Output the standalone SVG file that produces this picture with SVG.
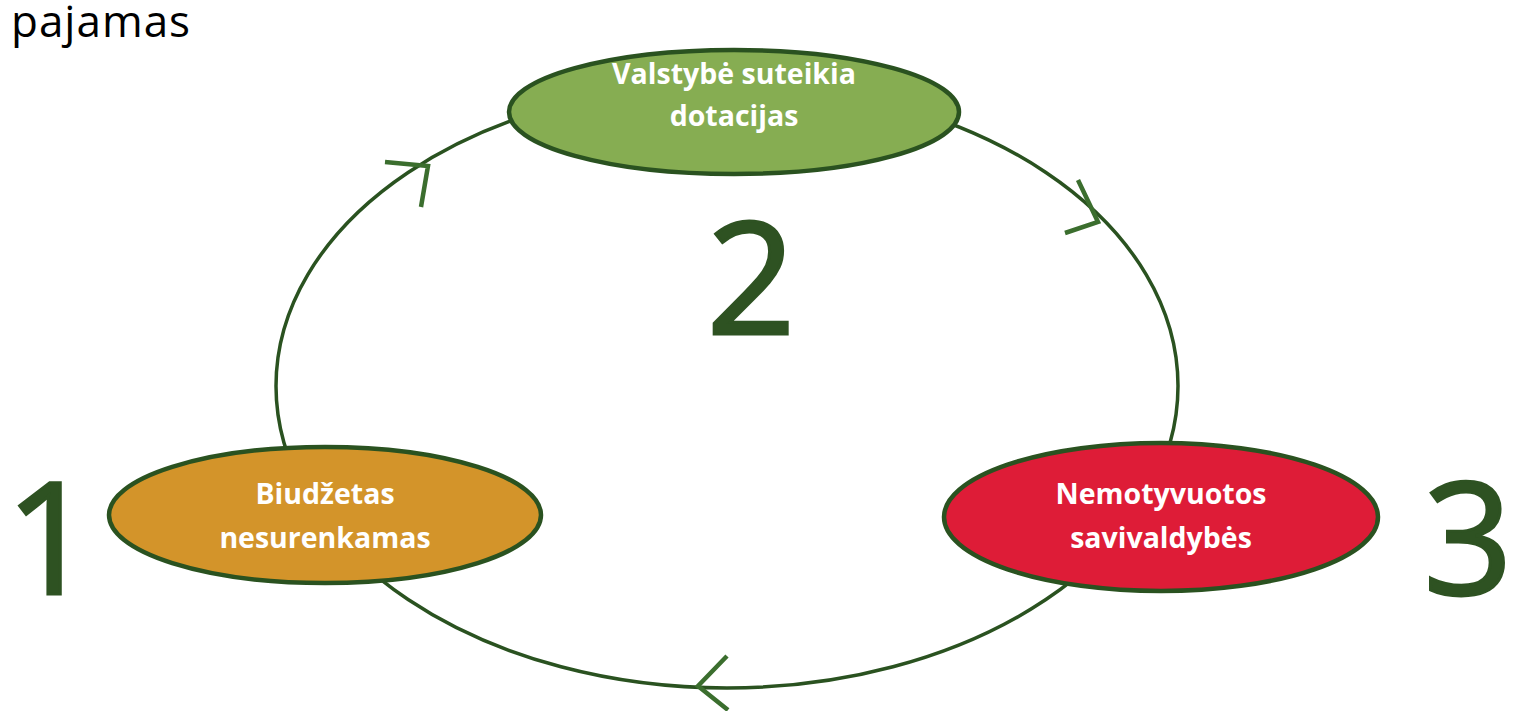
<svg xmlns="http://www.w3.org/2000/svg" width="1519" height="711" viewBox="0 0 1519 711">
<style>
.node{stroke:#2a5220;stroke-width:4.5}
.lbl{font-family:"Open Sans","Liberation Sans",sans-serif;font-weight:bold;font-size:28.5px;fill:#ffffff;text-anchor:middle}
.num{font-family:"Open Sans","Liberation Sans",sans-serif;font-size:156px;fill:#2e5222;stroke:#2e5222;stroke-width:3;text-anchor:middle}
.cyc{fill:none;stroke:#2a5220;stroke-width:3.5}
.chev{fill:none;stroke:#3b6e2e;stroke-width:4.5}
</style>
<rect width="1519" height="711" fill="#ffffff"/>
<text x="11" y="37" font-family="'Open Sans','Liberation Sans',sans-serif" font-size="44" letter-spacing="1" fill="#000000">pajamas</text>
<g id="connectors">
<ellipse class="cyc" cx="727" cy="386" rx="451" ry="302"/>
<polyline class="chev" points="385,162 428,166 421,207"/>
<polyline class="chev" points="1078,180 1098,222 1065,233"/>
<polyline class="chev" points="727,656 698,686 728,710"/>
</g>
<g id="node-valstybe">
<ellipse class="node" cx="734" cy="112" rx="225" ry="62" fill="#86ad52"/>
<text class="lbl" x="734" y="84">Valstybė suteikia</text>
<text class="lbl" x="734" y="126">dotacijas</text>
</g>
<g id="node-biudzetas">
<ellipse class="node" cx="325" cy="515" rx="216" ry="68" fill="#d3942a"/>
<text class="lbl" x="325" y="504">Biudžetas</text>
<text class="lbl" x="325" y="548">nesurenkamas</text>
</g>
<g id="node-nemotyvuotos">
<ellipse class="node" cx="1161" cy="517" rx="217" ry="74" fill="#de1c37"/>
<text class="lbl" x="1161" y="504">Nemotyvuotos</text>
<text class="lbl" x="1161" y="548">savivaldybės</text>
</g>
<text class="num" x="751" y="334">2</text>
<text class="num" x="50" y="594">1</text>
<text class="num" x="1468" y="594">3</text>
</svg>
